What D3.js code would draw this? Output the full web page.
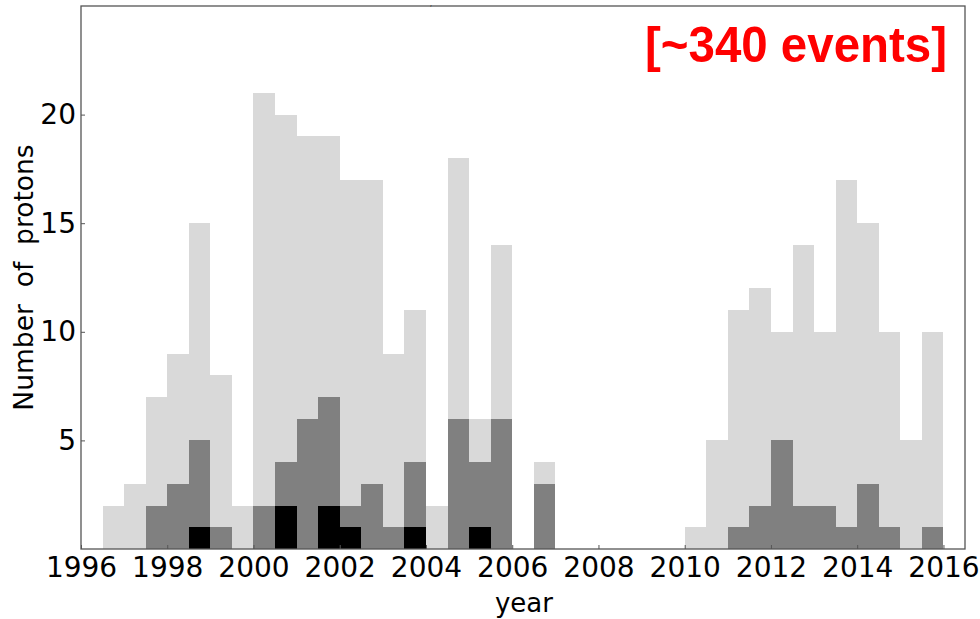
<!DOCTYPE html>
<html>
<head>
<meta charset="utf-8">
<script src="https://cdn.jsdelivr.net/npm/d3@7"></script>
<style>
  html, body { margin: 0; padding: 0; background: #fff; }
  svg { display: block; }
</style>
</head>
<body>
<svg id="chart" width="980" height="619"></svg>
<script>
// Half-year bins starting at 1996.5
const binStarts = [
  1996.5, 1997.0, 1997.5, 1998.0, 1998.5, 1999.0, 1999.5, 2000.0, 2000.5, 2001.0,
  2001.5, 2002.0, 2002.5, 2003.0, 2003.5, 2004.0, 2004.5, 2005.0, 2005.5, 2006.0,
  2006.5, 2007.0, 2007.5, 2008.0, 2008.5, 2009.0, 2009.5, 2010.0, 2010.5, 2011.0,
  2011.5, 2012.0, 2012.5, 2013.0, 2013.5, 2014.0, 2014.5, 2015.0, 2015.5
];
const allCounts = [
  2, 3, 7, 9, 15, 8, 2, 21, 20, 19,
  19, 17, 17, 9, 11, 2, 18, 6, 14, 0,
  4, 0, 0, 0, 0, 0, 0, 1, 5, 11,
  12, 10, 14, 10, 17, 15, 10, 5, 10
];
const midCounts = [
  0, 0, 2, 3, 5, 1, 0, 2, 4, 6,
  7, 2, 3, 1, 4, 0, 6, 4, 6, 0,
  3, 0, 0, 0, 0, 0, 0, 0, 0, 1,
  2, 5, 2, 2, 1, 3, 1, 0, 1
];
const highCounts = [
  0, 0, 0, 0, 1, 0, 0, 0, 2, 0,
  2, 1, 0, 0, 1, 0, 0, 1, 0, 0,
  0, 0, 0, 0, 0, 0, 0, 0, 0, 0,
  0, 0, 0, 0, 0, 0, 0, 0, 0
];
const binWidth = 0.5;
const xTicks = [1996, 1998, 2000, 2002, 2004, 2006, 2008, 2010, 2012, 2014, 2016];
const yTicks = [5, 10, 15, 20];
const xLabel = "year";
const yLabel = "Number\u00a0\u00a0of\u00a0\u00a0protons";
const annotation = "[~340 events]";

const svg = d3.select("#chart");
const L = 81, R = 965, T = 6, B = 549;

const x = d3.scaleLinear().domain([1996, 2016.5]).range([L, R]);
const y = d3.scaleLinear().domain([0, 25]).range([B, T]);

const layers = [
  { values: allCounts, color: "#d9d9d9" },
  { values: midCounts, color: "#808080" },
  { values: highCounts, color: "#000000" }
];

layers.forEach(layer => {
  svg.append("g")
    .selectAll("rect")
    .data(binStarts.map((s, i) => ({ s, v: layer.values[i] })).filter(d => d.v > 0))
    .join("rect")
    .attr("x", d => x(d.s))
    .attr("width", d => x(d.s + binWidth) - x(d.s))
    .attr("y", d => y(d.v))
    .attr("height", d => y(0) - y(d.v))
    .attr("fill", layer.color)
    .attr("shape-rendering", "crispEdges");
});

// Frame
svg.append("rect")
  .attr("x", L).attr("y", T)
  .attr("width", R - L).attr("height", B - T)
  .attr("fill", "none")
  .attr("stroke", "#555")
  .attr("stroke-width", 1.3);

// Axes (ticks inward)
const xAxis = d3.axisBottom(x).tickValues(xTicks).tickFormat(d3.format("d"))
  .tickSizeInner(-4).tickSizeOuter(0).tickPadding(8);
const gx = svg.append("g").attr("transform", `translate(0,${B})`).call(xAxis);
gx.select(".domain").remove();
gx.selectAll(".tick line").attr("stroke", "#555");
gx.selectAll("text")
  .attr("font-family", "DejaVu Sans")
  .attr("font-size", 28)
  .attr("fill", "#000");

const yAxis = d3.axisLeft(y).tickValues(yTicks).tickFormat(d3.format("d"))
  .tickSizeInner(-4).tickSizeOuter(0).tickPadding(5);
const gy = svg.append("g").attr("transform", `translate(${L},0)`).call(yAxis);
gy.select(".domain").remove();
gy.selectAll(".tick line").attr("stroke", "#555");
gy.selectAll("text")
  .attr("font-family", "DejaVu Sans")
  .attr("font-size", 28)
  .attr("fill", "#000");

// Axis labels
svg.append("text")
  .attr("x", (L + R) / 2 + 1)
  .attr("y", 612)
  .attr("text-anchor", "middle")
  .attr("font-family", "DejaVu Sans")
  .attr("font-size", 26)
  .text(xLabel);

svg.append("text")
  .attr("transform", `translate(33,${(T + B) / 2}) rotate(-90)`)
  .attr("text-anchor", "middle")
  .attr("font-family", "DejaVu Sans")
  .attr("font-size", 26.5)
  .text(yLabel);

// Annotation
svg.append("text")
  .attr("x", 947)
  .attr("y", 62)
  .attr("text-anchor", "end")
  .attr("font-family", "Liberation Sans, Arial, sans-serif")
  .attr("font-weight", "bold")
  .attr("font-size", 50)
  .attr("textLength", 302)
  .attr("lengthAdjust", "spacingAndGlyphs")
  .attr("fill", "#ff0000")
  .text(annotation);

// Tiny title fragment at top edge
svg.append("text")
  .attr("x", 430)
  .attr("y", 6)
  .attr("font-family", "DejaVu Sans")
  .attr("font-size", 6)
  .attr("fill", "#000")
  .text(",");
</script>
</body>
</html>
